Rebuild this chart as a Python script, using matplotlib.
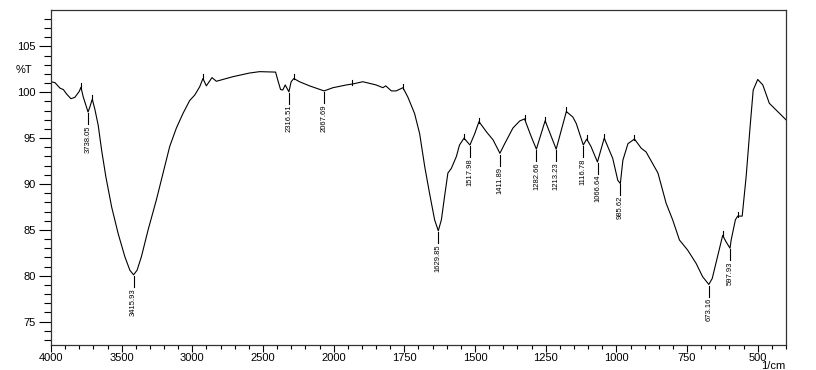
import numpy as np
import matplotlib
matplotlib.use("Agg")
import matplotlib.pyplot as plt
from matplotlib.ticker import FixedLocator, NullFormatter

# spectrum (wavenumber 1/cm, %T)
wavenumber = [4000, 3972, 3936, 3913, 3889, 3859, 3831, 3800, 3788, 3772,
              3738, 3725, 3708, 3689, 3666, 3642, 3612, 3571, 3525, 3478,
              3442, 3416, 3391, 3360, 3313, 3254, 3207, 3160, 3113, 3066,
              3019, 2983, 2948, 2925, 2901, 2861, 2830, 2713, 2595, 2524,
              2411, 2395, 2376, 2360, 2343, 2317, 2301, 2282, 2242, 2171,
              2068, 2005, 1955, 1934, 1897, 1850, 1826, 1816, 1796, 1779,
              1755, 1738, 1714, 1696, 1678, 1661, 1643, 1630, 1619, 1608,
              1596, 1584, 1566, 1555, 1539, 1518, 1501, 1486, 1460, 1436,
              1412, 1395, 1366, 1342, 1325, 1301, 1283, 1252, 1213, 1177,
              1154, 1142, 1117, 1105, 1090, 1067, 1043, 1013, 995, 986,
              977, 959, 936, 912, 895, 853, 824, 801, 777, 748,
              718, 695, 673, 661, 642, 624, 612, 598, 594, 579,
              571, 555, 541, 527, 516, 500, 482, 459, 436, 406, 400]
transmittance = [101.15, 101.05, 100.45, 100.3, 99.8, 99.3, 99.45, 100.1, 100.55, 99.5,
                 97.85, 98.4, 99.25, 98.1, 96.4, 93.7, 90.8, 87.5, 84.6, 82.1,
                 80.6, 80.1, 80.6, 82.1, 85.0, 88.3, 91.2, 94.1, 96.1, 97.7,
                 99.1, 99.7, 100.6, 101.5, 100.7, 101.6, 101.2, 101.7, 102.1, 102.25,
                 102.2, 101.3, 100.3, 100.25, 100.8, 100.05, 101.15, 101.5, 101.15, 100.7,
                 100.15, 100.5, 100.8, 100.9, 101.15, 100.8, 100.5, 100.7, 100.15, 100.15,
                 100.5, 99.5, 97.7, 95.5, 91.9, 89.0, 86.1, 84.9, 86.1, 88.6,
                 91.2, 91.7, 93.0, 94.25, 95.0, 94.25, 95.5, 96.8, 95.7, 94.8,
                 93.35, 94.4, 96.1, 96.87, 97.1, 95.15, 93.8, 96.9, 93.8, 97.9,
                 97.3, 96.6, 94.25, 94.9, 94.1, 92.4, 95.0, 92.8, 90.4, 90.05,
                 92.6, 94.4, 94.9, 93.9, 93.5, 91.2, 87.9, 86.1, 83.9, 82.8,
                 81.35, 79.9, 79.05, 79.7, 82.1, 84.4, 83.7, 83.0, 83.9, 86.1,
                 86.5, 86.5, 90.8, 96.25, 100.25, 101.4, 100.8, 98.8, 98.1, 97.2, 97.0]

# labelled minima
peak_wn = [3738.05, 3415.93, 2316.51, 2067.69, 1629.85, 1517.98, 1411.89,
           1282.66, 1213.23, 1116.78, 1066.64, 985.62, 673.16, 597.93]
# small marks on the maxima
max_wn = [3788, 3708, 2925, 2282, 1934, 1755, 1539, 1486, 1325, 1252,
          1177, 1105, 1043, 936, 624, 571]

major_x = [4000, 3500, 3000, 2500, 2000, 1750, 1500, 1250, 1000, 750, 500]
major_y = [75, 80, 85, 90, 95, 100, 105]

wn = np.array(wavenumber, dtype=float)
tr = np.array(transmittance, dtype=float)


def fwd(x):
    x = np.asarray(x, dtype=float)
    return np.where(x > 2000, 2000 + (x - 2000) / 2.0, x)


def inv(u):
    u = np.asarray(u, dtype=float)
    return np.where(u > 2000, 2000 + (u - 2000) * 2.0, u)


plt.rcParams['font.family'] = ['Liberation Sans', 'DejaVu Sans']

fig = plt.figure(figsize=(8.16, 3.70), dpi=100)
ax = fig.add_axes([51 / 816, 25 / 370, 735 / 816, 335 / 370])
ax.set_xscale('function', functions=(fwd, inv))
ax.plot(wn, tr, color='black', lw=0.8)
ax.set_xlim(4000, 400)
ax.set_ylim(72.45, 108.97)

# peak labels under the minima
for p in peak_wn:
    t = np.interp(p, wn[::-1], tr[::-1])
    ax.plot([p, p], [t - 0.15, t - 1.35], color='black', lw=0.8)
    ax.text(p, t - 1.45, '%.2f' % p, rotation=90, ha='center', va='top',
            fontsize=5.5)

# tiny ticks on the maxima
for m in max_wn:
    t = np.interp(m, wn[::-1], tr[::-1])
    ax.plot([m, m], [t - 0.1, t + 0.45], color='black', lw=0.8)

ax.xaxis.set_major_locator(FixedLocator(major_x))
ax.xaxis.set_minor_locator(FixedLocator(list(range(4000, 2000, -100)) + list(range(2000, 399, -50))))
ax.xaxis.set_minor_formatter(NullFormatter())
ax.set_xticklabels([str(v) for v in major_x])
ax.yaxis.set_major_locator(FixedLocator(major_y))
ax.yaxis.set_minor_locator(FixedLocator(list(range(73, 109))))

ax.tick_params(axis='both', which='major', labelsize=8, direction='out', width=0.8)
ax.tick_params(axis='x', which='major', length=5, pad=1)
ax.tick_params(axis='y', which='major', length=9, pad=2)
ax.tick_params(axis='x', which='minor', length=3, width=0.8)
ax.tick_params(axis='y', which='minor', length=5, width=0.8)
for s in ax.spines.values():
    s.set_linewidth(0.9)
    s.set_color('#333333')

fig.text(32 / 816, 1 - 70 / 370, '%T', ha='right', va='center', fontsize=8)
fig.text(773 / 816, 1 - 366 / 370, '1/cm', ha='center', va='center', fontsize=8)

fig.savefig('out.png', dpi=100)
